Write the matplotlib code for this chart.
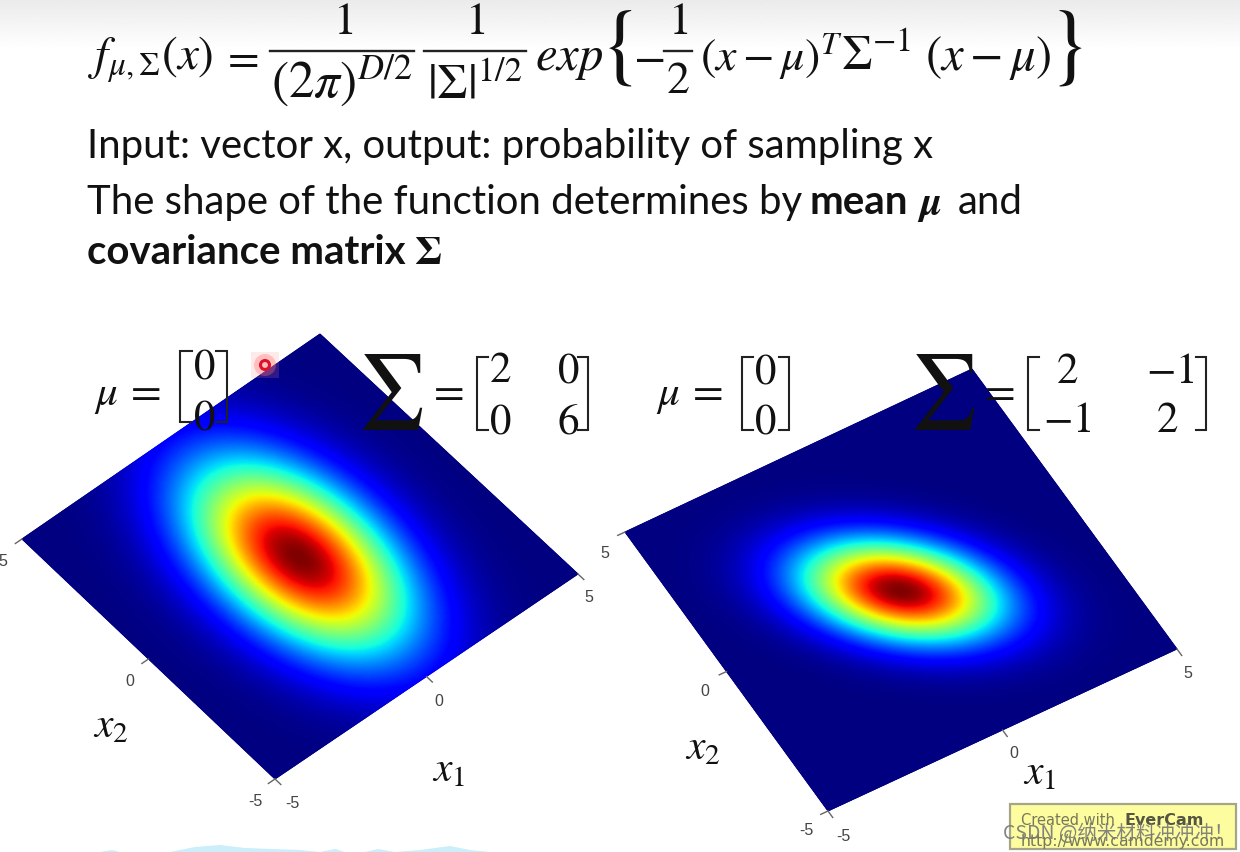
import numpy as np
import matplotlib
matplotlib.use("Agg")
import matplotlib.pyplot as plt
from matplotlib.patches import Rectangle, Circle

# distribution parameters shown on the slide
mu = [0, 0]
sigma_left = [[2, 0], [0, 6]]
sigma_right = [[2, -1], [-1, 2]]
tick_vals = [-5, 0, 5]

# corners of each tilted surface: (x1=-5,x2=-5), (x1=5,x2=-5), (x1=-5,x2=5), (x1=5,x2=5)
left_corners = [(275, 780), (578, 575), (22, 540), (320, 335)]
right_corners = [(828, 812), (1177, 650), (625, 533), (972, 370)]

plt.rcParams['mathtext.fontset'] = 'stix'

fig = plt.figure(figsize=(12.4, 8.53), dpi=100)
ax = fig.add_axes([0, 0, 1, 1])

# grey band at the top of the slide
band = np.linspace(0.92, 1, 60).reshape(-1, 1)
ax.imshow(band, cmap="gray", vmin=0, vmax=1, extent=[0, 1240, 50, 0], aspect="auto", zorder=0)
ax.set_xlim(0, 1240)
ax.set_ylim(853, 0)
ax.axis("off")


def to_page(corners, a, b):
    o, p, q, r = [np.array(c, dtype=float) for c in corners]
    u = (np.asarray(a) + 5) / 10
    v = (np.asarray(b) + 5) / 10
    X = (1 - u) * (1 - v) * o[0] + u * (1 - v) * p[0] + (1 - u) * v * q[0] + u * v * r[0]
    Y = (1 - u) * (1 - v) * o[1] + u * (1 - v) * p[1] + (1 - u) * v * q[1] + u * v * r[1]
    return X, Y


def surface(corners, sigma):
    g = np.linspace(-5, 5, 300)
    a, b = np.meshgrid(g, g)
    inv = np.linalg.inv(np.array(sigma))
    da = a - mu[0]
    db = b - mu[1]
    z = np.exp(-0.5 * (inv[0, 0] * da * da + 2 * inv[0, 1] * da * db + inv[1, 1] * db * db))
    X, Y = to_page(corners, a, b)
    ax.pcolormesh(X, Y, z, cmap="jet", shading="gouraud", vmin=0, vmax=1, zorder=1)


def ticks(corners):
    o, p, q, r = [np.array(c, dtype=float) for c in corners]
    for t in tick_vals:
        f = (t + 5) / 10
        for start, d in ((o + f * (p - o), (o - q)), (o + f * (q - o), (o - p))):
            d = d / np.linalg.norm(d) * 8
            ax.plot([start[0], start[0] + d[0]], [start[1], start[1] + d[1]], color="#666666", lw=1, zorder=1)


surface(left_corners, sigma_left)
surface(right_corners, sigma_right)
ticks(left_corners)
ticks(right_corners)

tick_labels = [("5", 3, 561), ("5", 589, 597), ("0", 130, 681), ("0", 439, 701), ("-5", 255, 802), ("-5", 292, 804),
               ("5", 605, 553), ("5", 1188, 673), ("0", 705, 691), ("0", 1014, 754), ("-5", 806, 831), ("-5", 843, 837)]
for s, x, y in tick_labels:
    ax.text(x, y, s, family="Liberation Sans", fontsize=11.5, color="#444444", ha="center", va="center", zorder=2)


def m(x, y, s, size=30, **kw):
    ax.text(x, y, s, fontsize=size, ha=kw.pop("ha", "left"), va=kw.pop("va", "baseline"), color="#111111", zorder=3, **kw)


def bracket(spine, tip, y0, y1, lw=1.5):
    ax.plot([tip, spine, spine, tip], [y0, y0, y1, y1], color="#222222", lw=lw, zorder=3, solid_joinstyle="miter")


# formula
m(88, 70, r"$f_{\mu,\Sigma}(x)$", 34)
m(221, 70, "$=$", 33)
m(343, 34, "$1$", 33, ha="center")
m(475, 34, "$1$", 33, ha="center")
ax.plot([270, 414], [52, 52], color="#222222", lw=1.7, zorder=3)
ax.plot([424, 526], [52, 52], color="#222222", lw=1.7, zorder=3)
m(342, 98, r"$(2\pi)^{D/2}$", 37, ha="center")
m(475, 98, r"$|\Sigma|^{1/2}$", 35, ha="center")
m(535, 70, r"$exp$", 35)
ax.text(620, 50, "{", family="STIXGeneral", fontsize=64, ha="center", va="center", color="#111111", zorder=3)
m(633, 70, "$-$", 34)
m(678, 34, "$1$", 33, ha="center")
ax.plot([664, 692], [52, 52], color="#222222", lw=1.7, zorder=3)
m(678, 93, "$2$", 33, ha="center")
m(700, 70, r"$(x-\mu)^{T}$", 33)
m(841, 70, r"$\Sigma^{-1}$", 35)
m(925, 70, r"$(x-\mu)$", 35)
ax.text(1069, 50, "}", family="STIXGeneral", fontsize=64, ha="center", va="center", color="#111111", zorder=3)

# text lines
body = dict(family="Lato", fontsize=28.9, color="#111111", va="baseline", zorder=3)
ax.text(87, 158, "Input: vector x, output: probability of sampling x", **body)
ax.text(87, 214, "The shape of the function determines by", **body)
ax.text(810, 214, "mean", fontweight="bold", **body)
ax.text(917, 214, r"$\boldsymbol{\mu}$", fontsize=29, color="#111111", va="baseline", zorder=3)
ax.text(958, 214, "and", **body)
ax.text(87, 264, "covariance matrix", fontweight="bold", **body)
ax.text(414, 264, r"$\boldsymbol{\Sigma}$", fontsize=29, color="#111111", va="baseline", zorder=3)

# left parameters
m(94, 405, r"$\mu$", 31)
m(124, 403, "$=$", 32)
bracket(180, 192, 352, 423)
bracket(227, 216, 352, 423)
m(204, 378, "$0$", 31, ha="center")
m(204, 430, "$0$", 31, ha="center")
m(390, 392, r"$\sum$", 54, ha="center", va="center")
m(427, 403, "$=$", 32)
bracket(477, 488, 358, 431)
bracket(588, 578, 358, 431)
m(500, 382, "$2$", 31, ha="center")
m(568, 382, "$0$", 31, ha="center")
m(500, 433, "$0$", 31, ha="center")
m(568, 433, "$6$", 31, ha="center")

# right parameters
m(656, 405, r"$\mu$", 31)
m(686, 403, "$=$", 32)
bracket(742, 753, 358, 431)
bracket(789, 779, 358, 431)
m(765, 383, "$0$", 31, ha="center")
m(765, 433, "$0$", 31, ha="center")
m(942, 392, r"$\sum$", 54, ha="center", va="center")
m(978, 403, "$=$", 32)
bracket(1028, 1039, 358, 431)
bracket(1206, 1196, 358, 431)
m(1067, 383, "$2$", 31, ha="center")
m(1170, 383, "$-1$", 31, ha="center")
m(1067, 432, "$-1$", 31, ha="center")
m(1167, 432, "$2$", 31, ha="center")

# axis names
m(93, 737, "$x_2$", 30)
m(432, 781, "$x_1$", 30)
m(685, 759, "$x_2$", 30)
m(1023, 784, "$x_1$", 30)

# cursor marker
ax.add_patch(Rectangle((251, 353), 28, 26, color="#ff9090", alpha=0.18, lw=0, zorder=4))
ax.add_patch(Circle((265, 366), 11, color="#ff7070", alpha=0.35, lw=0, zorder=4))
ax.add_patch(Circle((265, 366), 4.5, facecolor="none", edgecolor="#e0102a", lw=2.2, zorder=4))

# light blue strip at the bottom edge
strip_x = [100, 112, 120, 170, 195, 220, 245, 300, 320, 335, 345, 365, 378, 395, 420, 450, 470, 490, 100]
strip_y = [853, 851, 853, 853, 848, 846, 849, 851, 853, 850, 853, 853, 850, 853, 851, 847, 851, 853, 853]
ax.fill(strip_x, strip_y, color="#cbeefa", lw=0, zorder=1)

# recorder watermark
ax.add_patch(Rectangle((1010, 805), 226, 45, facecolor="#fdfd9f", edgecolor="#a5a58a", lw=1.6, zorder=5))
ax.text(1021, 825, "Created with", family="DejaVu Sans", fontsize=10.5, color="#77775a", va="baseline", zorder=6)
ax.text(1124, 825, "EverCam", family="DejaVu Sans", fontsize=11.5, fontweight="bold", color="#555544", va="baseline", zorder=6)
ax.text(1021, 846, "http://www.camdemy.com", family="DejaVu Sans", fontsize=11.3, color="#77775a", va="baseline", zorder=6)
ax.text(1003, 834, "CSDN @纳米材料冲冲冲！", family=["Noto Sans CJK SC", "DejaVu Sans"], fontsize=14,
        color="#777777", alpha=0.9, va="center", zorder=7)

fig.savefig("out.png", dpi=100)
